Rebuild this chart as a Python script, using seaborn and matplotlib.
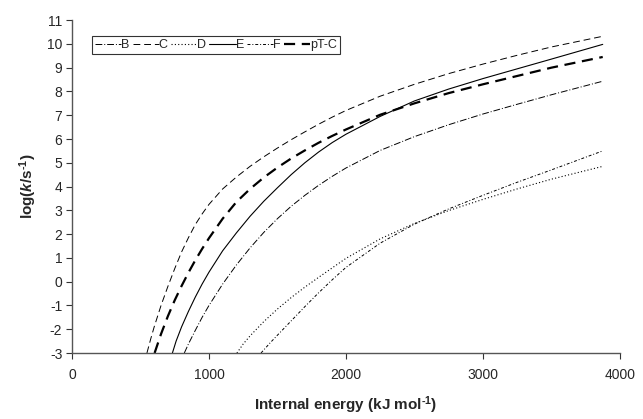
import numpy as np
import pandas as pd
import matplotlib
matplotlib.use("Agg")
import matplotlib.pyplot as plt
import seaborn as sns

# values (internal energy in kJ/mol, log k)
e_B = [820, 850, 900, 950, 1000, 1100, 1200, 1300, 1400, 1500, 1600, 1700, 1800, 1900, 2000,
       2250, 2500, 2750, 3000, 3250, 3500, 3875]
k_B = [-3.0, -2.62, -2.05, -1.5, -1.0, -0.1, 0.7, 1.42, 2.07, 2.65, 3.17, 3.63, 4.05, 4.43, 4.78,
       5.52, 6.1, 6.6, 7.05, 7.46, 7.86, 8.43]

e_C = [547, 575, 600, 650, 700, 750, 800, 850, 900, 950, 1000, 1100, 1200, 1300, 1400, 1500,
       1600, 1700, 1800, 1900, 2000, 2250, 2500, 2750, 3000, 3250, 3500, 3875]
k_C = [-3.0, -2.4, -1.9, -1.0, -0.2, 0.55, 1.25, 1.85, 2.4, 2.85, 3.25, 3.9, 4.4, 4.85, 5.25, 5.62,
       5.97, 6.3, 6.62, 6.92, 7.2, 7.8, 8.3, 8.75, 9.15, 9.52, 9.87, 10.32]

e_D = [1204, 1250, 1300, 1400, 1500, 1600, 1700, 1800, 1900, 2000, 2250, 2500, 2750, 3000,
       3250, 3500, 3875]
k_D = [-3.0, -2.62, -2.28, -1.68, -1.15, -0.67, -0.23, 0.18, 0.58, 0.98, 1.8, 2.45, 2.99, 3.46,
       3.9, 4.31, 4.85]

e_E = [733, 760, 800, 850, 900, 950, 1000, 1100, 1200, 1300, 1400, 1500, 1600, 1700, 1800, 1900,
       2000, 2250, 2500, 2750, 3000, 3250, 3500, 3875]
k_E = [-3.0, -2.5, -1.9, -1.25, -0.65, -0.1, 0.4, 1.3, 2.05, 2.75, 3.38, 3.95, 4.5, 5.0, 5.45, 5.85,
       6.2, 6.95, 7.6, 8.1, 8.54, 8.95, 9.36, 9.98]

e_F = [1380, 1450, 1500, 1600, 1700, 1800, 1900, 2000, 2250, 2500, 2750, 3000, 3250, 3500, 3875]
k_F = [-3.0, -2.55, -2.25, -1.65, -1.05, -0.47, 0.08, 0.6, 1.62, 2.42, 3.06, 3.63, 4.18, 4.7, 5.5]

e_pTC = [603, 650, 700, 750, 800, 850, 900, 950, 1000, 1100, 1200, 1300, 1400, 1500, 1600, 1700,
         1800, 1900, 2000, 2250, 2500, 2750, 3000, 3250, 3500, 3875]
k_pTC = [-3.0, -2.2, -1.45, -0.78, -0.18, 0.38, 0.9, 1.38, 1.83, 2.65, 3.35, 3.9, 4.38, 4.8, 5.18, 5.52,
         5.84, 6.13, 6.4, 7.02, 7.5, 7.93, 8.3, 8.65, 9.0, 9.45]

labels = ["B", "C", "D", "E", "F", "pT-C"]
energies = [e_B, e_C, e_D, e_E, e_F, e_pTC]
logks = [k_B, k_C, k_D, k_E, k_F, k_pTC]
styles = [(0, (7, 2, 1, 2)), (0, (7, 4)), (0, (1, 2)), "-", (0, (3, 2, 1, 2)), (0, (5, 3))]
widths = [0.7, 0.7, 0.8, 0.8, 0.7, 1.6]

sns.set_style("ticks")
plt.rcParams["font.family"] = ["Liberation Sans", "DejaVu Sans"]
plt.rcParams["axes.unicode_minus"] = False
plt.rcParams["mathtext.fontset"] = "custom"
plt.rcParams["mathtext.rm"] = "Liberation Sans:bold"
plt.rcParams["mathtext.it"] = "Liberation Sans:italic:bold"
plt.rcParams["mathtext.bf"] = "Liberation Sans:bold"

fig = plt.figure(figsize=(6.43, 4.19), dpi=100)
ax = fig.add_axes([0.112, 0.1575, 0.852, 0.7945])

for lab, e, k, ls, lw in zip(labels, energies, logks, styles, widths):
    df = pd.DataFrame({"energy": e, "logk": k})
    sns.lineplot(data=df, x="energy", y="logk", ax=ax, color="black",
                 linestyle=ls, linewidth=lw, label=lab, sort=False, estimator=None)

ax.set_xlim(0, 4000)
ax.set_ylim(-3, 11)
ax.set_xticks(np.arange(0, 4001, 1000))
ax.set_yticks(np.arange(-3, 12, 1))
ax.tick_params(labelsize=10, length=4, width=0.8, color="#333333")
ax.tick_params(axis="x", pad=7)
ax.tick_params(axis="y", pad=3)
sns.despine(ax=ax)
for s in ["left", "bottom"]:
    ax.spines[s].set_color("#555555")
    ax.spines[s].set_linewidth(1.0)

ax.set_xlabel(r"Internal energy (kJ mol$^{\text{-1}}$)", fontsize=11, fontweight="bold", labelpad=9)
ax.set_ylabel(r"log($k$/s$^{\text{-1}}$)", fontsize=11, fontweight="bold", labelpad=6)

leg = ax.legend(ncol=6, loc="upper left", bbox_to_anchor=(0.036, 0.952), fontsize=9,
                handlelength=2.1, handletextpad=0.0, columnspacing=0.25, borderaxespad=0,
                borderpad=0.25, frameon=True, fancybox=False, edgecolor="black")
leg.get_frame().set_linewidth(0.8)

fig.savefig("out.png", dpi=100)
